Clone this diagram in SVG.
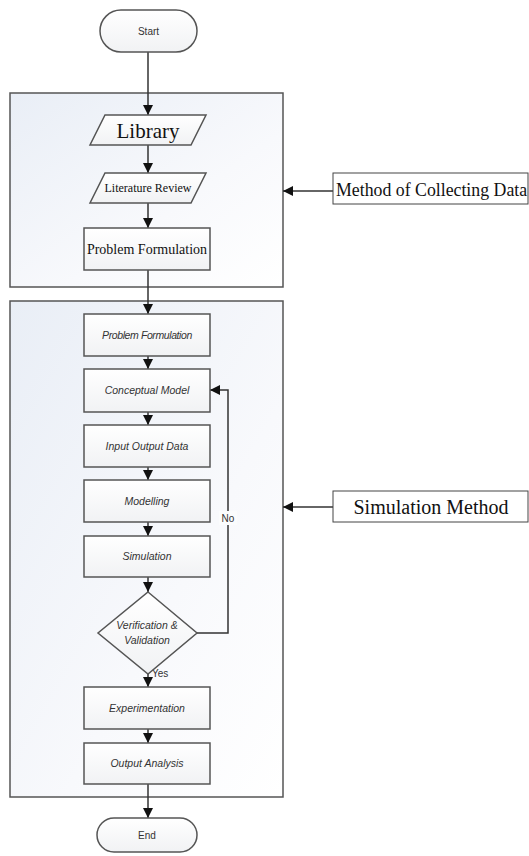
<svg xmlns="http://www.w3.org/2000/svg" width="529" height="856" viewBox="0 0 529 856">
<defs>
<linearGradient id="panel" x1="0" y1="0" x2="1" y2="1">
<stop offset="0" stop-color="#e9eef6"/>
<stop offset="0.6" stop-color="#f8f9fc"/>
<stop offset="1" stop-color="#ffffff"/>
</linearGradient>
<linearGradient id="box" x1="0" y1="0" x2="0" y2="1">
<stop offset="0" stop-color="#ffffff"/>
<stop offset="1" stop-color="#f1f2f4"/>
</linearGradient>
<marker id="ah" viewBox="0 0 10 10" refX="10" refY="5" markerWidth="10" markerHeight="10" markerUnits="userSpaceOnUse" orient="auto">
<path d="M0,0 L10,5 L0,10 z" fill="#111"/>
</marker>
</defs>
<style>
.panel{fill:url(#panel);stroke:#555;stroke-width:1.5}
.node{fill:url(#box);stroke:#555;stroke-width:1.5}
.lbl{fill:#fff;stroke:#444;stroke-width:1}
.c{fill:none;stroke:#333;stroke-width:1.5}
.ca{fill:none;stroke:#333;stroke-width:1.5;marker-end:url(#ah)}
.serif{font-family:"Liberation Serif","Times New Roman",serif;fill:#111}
.it{font-family:"Liberation Sans",Arial,sans-serif;font-style:italic;font-size:10.5px;fill:#333}
.sans{font-family:"Liberation Sans",Arial,sans-serif;font-size:10px;fill:#333}
</style>
<rect width="529" height="856" fill="#fff"/>
<g id="panel1"><rect class="panel" x="10" y="93" width="273" height="194"/></g>
<g id="panel2"><rect class="panel" x="10" y="301" width="273" height="496"/></g>

<g id="connectors">
<line class="ca" x1="148" y1="52" x2="148" y2="115"/>
<line class="ca" x1="148" y1="145" x2="148" y2="173"/>
<line class="ca" x1="148" y1="203" x2="148" y2="228"/>
<line class="ca" x1="148" y1="270" x2="148" y2="314"/>
<line class="ca" x1="148" y1="356" x2="148" y2="369"/>
<line class="ca" x1="148" y1="412" x2="148" y2="425"/>
<line class="ca" x1="148" y1="467" x2="148" y2="480"/>
<line class="ca" x1="148" y1="522" x2="148" y2="536"/>
<line class="ca" x1="148" y1="577" x2="148" y2="592"/>
<line class="ca" x1="148" y1="674" x2="148" y2="687"/>
<line class="ca" x1="148" y1="729" x2="148" y2="743"/>
<line class="ca" x1="148" y1="784" x2="148" y2="818"/>
<polyline class="ca" points="197,633 228,633 228,390 210,390"/>
<line class="ca" x1="333" y1="191" x2="283" y2="191"/>
<line class="ca" x1="333" y1="507" x2="283" y2="507"/>
<rect x="219" y="511" width="18" height="14" fill="#fbfcfd"/>
<text class="sans" x="228" y="522" text-anchor="middle">No</text>
<text class="sans" x="152" y="677">Yes</text>
</g>

<g id="start"><rect class="node" x="100" y="10" width="97" height="42" rx="21"/><text class="sans" x="148.5" y="34.5" text-anchor="middle" font-size="9">Start</text></g>
<g id="library"><polygon class="node" points="105,115 206,115 191,145 90,145"/><text class="serif" x="148" y="138" text-anchor="middle" font-size="21">Library</text></g>
<g id="literature"><polygon class="node" points="105,173 206,173 191,203 90,203"/><text class="serif" x="148" y="192" text-anchor="middle" font-size="12">Literature Review</text></g>
<g id="pf1"><rect class="node" x="84" y="228" width="126" height="42"/><text class="serif" x="147" y="254" text-anchor="middle" font-size="14">Problem Formulation</text></g>

<g id="pf2"><rect class="node" x="84" y="314" width="126" height="42"/><text class="it" x="147" y="339" text-anchor="middle" letter-spacing="-0.4">Problem Formulation</text></g>
<g id="cm"><rect class="node" x="84" y="369" width="126" height="43"/><text class="it" x="147" y="394" text-anchor="middle">Conceptual Model</text></g>
<g id="iod"><rect class="node" x="84" y="425" width="126" height="42"/><text class="it" x="147" y="450" text-anchor="middle">Input Output Data</text></g>
<g id="modelling"><rect class="node" x="84" y="480" width="126" height="42"/><text class="it" x="147" y="505" text-anchor="middle">Modelling</text></g>
<g id="simulation"><rect class="node" x="84" y="536" width="126" height="41"/><text class="it" x="147" y="560" text-anchor="middle">Simulation</text></g>
<g id="verify"><polygon class="node" points="148,592 197,633 148,674 98,633"/><text class="it" x="147" y="629" text-anchor="middle">Verification &amp;</text><text class="it" x="147" y="644" text-anchor="middle">Validation</text></g>
<g id="experimentation"><rect class="node" x="84" y="687" width="126" height="42"/><text class="it" x="147" y="712" text-anchor="middle">Experimentation</text></g>
<g id="output"><rect class="node" x="84" y="743" width="126" height="41"/><text class="it" x="147" y="767" text-anchor="middle">Output Analysis</text></g>
<g id="end"><rect class="node" x="97" y="818" width="100" height="34" rx="17"/><text class="sans" x="147" y="839" text-anchor="middle" font-size="9">End</text></g>

<g id="label-collecting"><rect class="lbl" x="333" y="173" width="195" height="31"/><text class="serif" x="336" y="196" font-size="17.8">Method of Collecting Data</text></g>
<g id="label-simulation"><rect class="lbl" x="333" y="491" width="195" height="31"/><text class="serif" x="431" y="514" text-anchor="middle" font-size="20">Simulation Method</text></g>
</svg>
